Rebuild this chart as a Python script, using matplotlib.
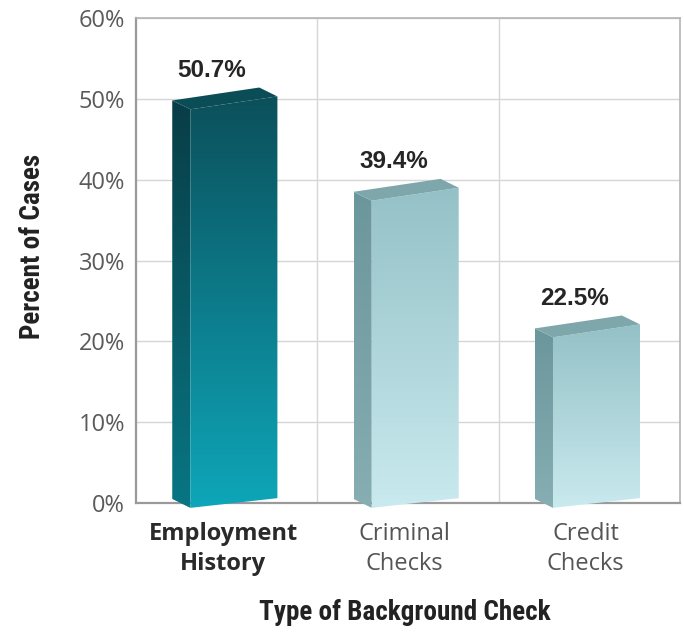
import numpy as np
import matplotlib
matplotlib.use("Agg")
import matplotlib.pyplot as plt
from matplotlib.patches import Polygon
from matplotlib.colors import LinearSegmentedColormap
from matplotlib.ticker import FuncFormatter
from matplotlib import font_manager

# Data
categories = ["Employment\nHistory", "Criminal\nChecks", "Credit\nChecks"]
values = [50.7, 39.4, 22.5]
value_labels = ["50.7%", "39.4%", "22.5%"]
highlight = [True, False, False]
yticks = [0, 10, 20, 30, 40, 50, 60]

# Bar geometry (data units) for the pseudo-3D look
FRONT_L, FRONT_R = -0.20, 0.28     # front face horizontal extent around category centre
DEPTH_X, DEPTH_Y = -0.10, 1.1      # offset of the back edge (to the upper-left)
BOT_L, BOT_R = -0.6, 0.6           # tilted bottom edge of the front face
TOP_L, TOP_R = -2.0, -0.4          # tilted top edge of the front face relative to value

dark = dict(front=("#0b505b", "#0ea6b9"), side=("#083d46", "#087684"), top="#0b4d57")
light = dict(front=("#94c1c7", "#c9eaee"), side=("#6b969c", "#86aeb3"), top="#7ea7ac")

installed = {f.name for f in font_manager.fontManager.ttflist}
narrow = next((n for n in ["Roboto Condensed", "Open Sans Condensed",
                           "DejaVu Sans Condensed", "Liberation Sans Narrow"]
               if n in installed), "Liberation Sans")
label_font = ["Open Sans", "Liberation Sans", "DejaVu Sans"]

fig = plt.figure(figsize=(6.84, 6.36), dpi=100)
ax = fig.add_axes([0.1988, 0.2091, 0.7952, 0.7626])


def gradient_polygon(verts, top_color, bottom_color, zorder):
    poly = Polygon(verts, closed=True, facecolor="none", edgecolor="none",
                   transform=ax.transData)
    ax.add_patch(poly)
    xs = [p[0] for p in verts]
    ys = [p[1] for p in verts]
    cmap = LinearSegmentedColormap.from_list("g", [bottom_color, top_color])
    grad = np.linspace(0, 1, 256).reshape(-1, 1)
    im = ax.imshow(grad, extent=[min(xs), max(xs), min(ys), max(ys)],
                   origin="lower", cmap=cmap, aspect="auto",
                   interpolation="bilinear", zorder=zorder)
    im.set_clip_path(poly)
    im.set_clip_box(fig.bbox)
    return im


for i, (v, hl) in enumerate(zip(values, highlight)):
    pal = dark if hl else light
    xl, xr = i + FRONT_L, i + FRONT_R
    fbl = (xl, BOT_L)
    fbr = (xr, BOT_R)
    ftl = (xl, v + TOP_L)
    ftr = (xr, v + TOP_R)
    btl = (xl + DEPTH_X, v + TOP_L + DEPTH_Y)
    btr = (xr + DEPTH_X, v + TOP_R + DEPTH_Y)
    bbl = (xl + DEPTH_X, BOT_L + DEPTH_Y)
    # side face (left)
    gradient_polygon([bbl, fbl, ftl, btl], pal["side"][0], pal["side"][1], 4)
    # front face
    gradient_polygon([fbl, fbr, ftr, ftl], pal["front"][0], pal["front"][1], 5)
    # top face
    top = Polygon([ftl, ftr, btr, btl], closed=True, facecolor=pal["top"],
                  edgecolor="none", zorder=6, clip_on=False)
    ax.add_patch(top)
    ax.text(i - 0.08, v + 2.8, value_labels[i], ha="center", va="center",
            fontsize=17.5, fontweight="bold", color="#252525",
            family=["Liberation Sans", "DejaVu Sans"])

ax.set_xlim(-0.5, 2.5)
ax.set_ylim(0, 60)
ax.set_yticks(yticks)
ax.yaxis.set_major_formatter(FuncFormatter(lambda y, _: f"{int(y)}%"))
ax.set_xticks([0.5, 1.5], minor=False)
ax.set_xticklabels([])
ax.tick_params(axis="both", length=0)
ax.tick_params(axis="y", pad=8, labelsize=17, labelcolor="#5a5a5a")
for lbl in ax.get_yticklabels():
    lbl.set_family(label_font)

ax.grid(True, color="#d6d6d6", linewidth=1.0, zorder=0)
ax.set_axisbelow(True)
for side in ["left", "bottom"]:
    ax.spines[side].set_color("#9a9a9a")
    ax.spines[side].set_linewidth(1.6)
for side in ["top", "right"]:
    ax.spines[side].set_color("#b4b4b4")
    ax.spines[side].set_linewidth(1.2)

# Category labels below the axis
for i, (name, hl) in enumerate(zip(categories, highlight)):
    ax.text(i - 0.02, -2.4, name, ha="center", va="top", fontsize=17,
            fontweight="bold" if hl else "normal",
            color="#2a2a2a" if hl else "#555555", linespacing=1.3,
            family=label_font)

fig.text(0.047, 0.613, "Percent of Cases", rotation=90, ha="center",
         va="center", fontsize=19.5, fontweight="bold", color="#222222",
         family=narrow)
fig.text(0.592, 0.037, "Type of Background Check", ha="center", va="center",
         fontsize=19.5, fontweight="bold", color="#222222", family=narrow)

fig.savefig("out.png", dpi=100, facecolor="white")
